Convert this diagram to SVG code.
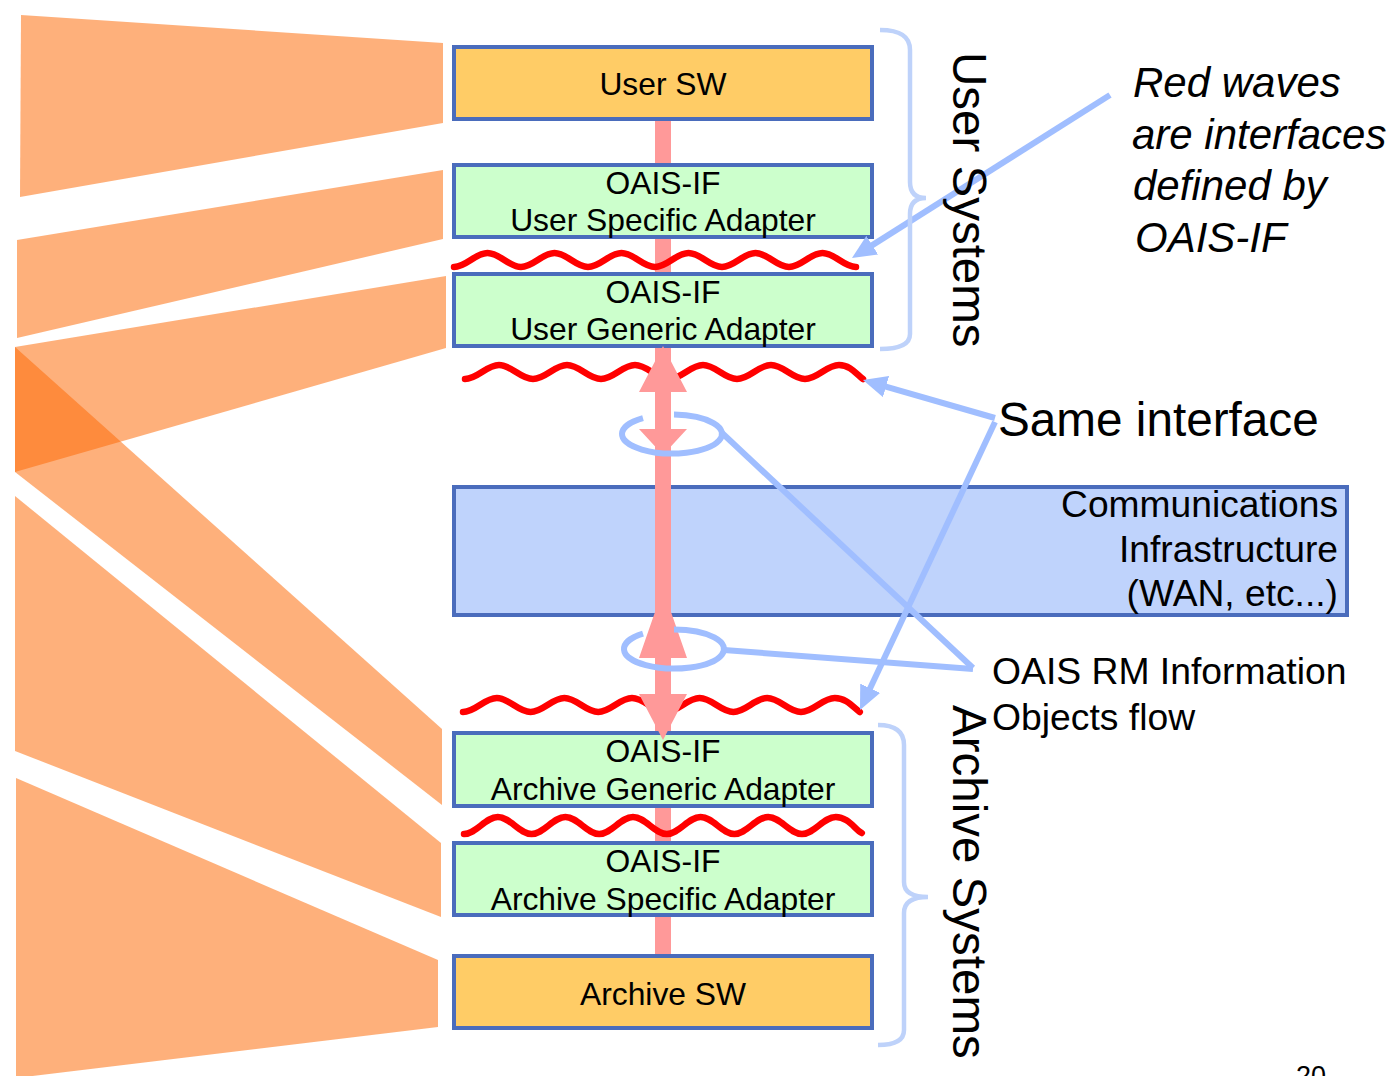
<svg xmlns="http://www.w3.org/2000/svg" width="1393" height="1076" viewBox="0 0 1393 1076">
  <defs>
    <style>
      .wedge { fill: #FD6A06; fill-opacity: 0.53; }
      .box { stroke: #4A6CBC; stroke-width: 4; }
      .sw { fill: #FFCC66; }
      .adapter { fill: #CCFFCC; }
      .comms { fill: #BFD3FC; }
      .lbl { font-family: "Liberation Sans", Arial, sans-serif; fill: #000; }
      .boxtxt { font-size: 31.8px; text-anchor: middle; }
      .wave { fill: none; stroke: #FF0000; stroke-width: 6.5; stroke-linecap: round; stroke-linejoin: round; }
      .call { fill: none; stroke: #A0BEFF; stroke-width: 6; }
      .brace { fill: none; stroke: #BED2FA; stroke-width: 4.5; }
    </style>
    <marker id="tip" viewBox="0 0 24 22" refX="12" refY="11" markerWidth="24" markerHeight="22" markerUnits="userSpaceOnUse" orient="auto">
      <path d="M0,0 L24,11 L0,22 z" fill="#A0BEFF"/>
    </marker>
  </defs>

  <!-- fan of wedges on the left, one per layer box -->
  <g id="wedges">
    <polygon class="wedge" points="21,15 443,43 443,123 20,197"/>
    <polygon class="wedge" points="17,240 443,170 443,239 17,338"/>
    <polygon class="wedge" points="15,347 446,276 446,348 15,472"/>
    <polygon class="wedge" points="15,347 442,729 442,805 15,472"/>
    <polygon class="wedge" points="15,496 441,843 441,917 15,751"/>
    <polygon class="wedge" points="16,778 438,960 438,1027 16,1078"/>
  </g>

  <!-- vertical stack link behind the boxes -->
  <g id="stack-link">
    <rect x="655" y="121" width="16" height="833" fill="#FF9999"/>
  </g>

  <g id="user-sw">
    <rect class="box sw" x="454" y="47" width="418" height="72"/>
    <text class="lbl boxtxt" x="663" y="95">User SW</text>
  </g>
  <g id="user-specific-adapter">
    <rect class="box adapter" x="454" y="165" width="418" height="72"/>
    <text class="lbl boxtxt" x="663" y="194">OAIS-IF</text>
    <text class="lbl boxtxt" x="663" y="231">User Specific Adapter</text>
  </g>
  <g id="user-generic-adapter">
    <rect class="box adapter" x="454" y="274" width="418" height="72"/>
    <text class="lbl boxtxt" x="663" y="303">OAIS-IF</text>
    <text class="lbl boxtxt" x="663" y="340">User Generic Adapter</text>
  </g>
  <g id="communications">
    <rect class="box comms" x="454" y="487" width="893" height="128"/>
    <text class="lbl" x="1338" y="517" font-size="37.2" text-anchor="end">Communications</text>
    <text class="lbl" x="1338" y="562" font-size="37.2" text-anchor="end">Infrastructure</text>
    <text class="lbl" x="1338" y="606" font-size="37.2" text-anchor="end">(WAN, etc...)</text>
  </g>
  <g id="archive-generic-adapter">
    <rect class="box adapter" x="454" y="733" width="418" height="73"/>
    <text class="lbl boxtxt" x="663" y="762">OAIS-IF</text>
    <text class="lbl boxtxt" x="663" y="800">Archive Generic Adapter</text>
  </g>
  <g id="archive-specific-adapter">
    <rect class="box adapter" x="454" y="843" width="418" height="72"/>
    <text class="lbl boxtxt" x="663" y="872">OAIS-IF</text>
    <text class="lbl boxtxt" x="663" y="910">Archive Specific Adapter</text>
  </g>
  <g id="archive-sw">
    <rect class="box sw" x="454" y="956" width="418" height="72"/>
    <text class="lbl boxtxt" x="663" y="1005">Archive SW</text>
  </g>

  <!-- interface waves -->
  <g id="waves">
    <path class="wave" d="M454,267 c12.2,0 21.3,-14 33.5,-14 s21.3,14 33.5,14 s21.3,-14 33.5,-14 s21.3,14 33.5,14 s21.3,-14 33.5,-14 s21.3,14 33.5,14 s21.3,-14 33.5,-14 s21.3,14 33.5,14 s21.3,-14 33.5,-14 s21.3,14 33.5,14 s21.3,-14 33.5,-14 s21.3,14 33.5,14"/>
    <path class="wave" d="M465,379 c12.4,0 21.6,-14 34,-14 s21.6,14 34,14 s21.6,-14 34,-14 s21.6,14 34,14 s21.6,-14 34,-14 s21.6,14 34,14 s21.6,-14 34,-14 s21.6,14 34,14 s21.6,-14 34,-14 s21.6,14 34,14 s21.6,-14 34,-14 c12,0 18,10 24,14"/>
    <path class="wave" d="M463,712 c12.3,0 21.5,-14 33.8,-14 s21.5,14 33.8,14 s21.5,-14 33.8,-14 s21.5,14 33.8,14 s21.5,-14 33.8,-14 s21.5,14 33.8,14 s21.5,-14 33.8,-14 s21.5,14 33.8,14 s21.5,-14 33.8,-14 s21.5,14 33.8,14 s21.5,-14 33.8,-14 c12,0 19,10 25,14"/>
    <path class="wave" d="M464,834 c12.3,0 21.5,-17 33.8,-17 s21.5,17 33.8,17 s21.5,-17 33.8,-17 s21.5,17 33.8,17 s21.5,-17 33.8,-17 s21.5,17 33.8,17 s21.5,-17 33.8,-17 s21.5,17 33.8,17 s21.5,-17 33.8,-17 s21.5,17 33.8,17 s21.5,-17 33.8,-17 c12,0 19,12 26,16"/>
  </g>

  <!-- information-object flow through the network -->
  <g id="flow">
    <path fill="#FF9999" d="M663,346 L687,392 L671,392 L671,429 L687,429 L663,455 L671,455 L671,612 L687,658 L671,658 L671,694 L687,694 L663,740 L639,694 L655,694 L655,658 L639,658 L655,612 L655,455 L663,455 L639,429 L655,429 L655,392 L639,392 Z"/>
  </g>

  <!-- callout connectors -->
  <g id="connectors">
    <path class="call" d="M674,414.5 A50,19.5 0 1 1 643,418.1"/>
    <path class="call" d="M674,629.5 A50,19.5 0 1 1 643,633.7"/>
    <line class="call" x1="721" y1="432" x2="973" y2="668"/>
    <line class="call" x1="724" y1="650" x2="973" y2="669"/>
    <line class="call" x1="995" y1="418" x2="874.5" y2="383.3" marker-end="url(#tip)"/>
    <line class="call" x1="995" y1="422" x2="865.1" y2="699.1" marker-end="url(#tip)"/>
    <line class="call" x1="1110" y1="95" x2="862.1" y2="251.6" marker-end="url(#tip)"/>
    <path class="brace" d="M880,30 C900,30 910,36 910,50 L910,182 C910,193 916,198 926,198 C916,198 910,203 910,214 L910,334 C910,344 900,349 880,349"/>
    <path class="brace" d="M878,725 C895,725 904,731 904,745 L904,882 C904,893 913,897 928,897 C913,897 904,902 904,913 L904,1030 C904,1040 895,1045 878,1045"/>
  </g>

  <!-- side labels -->
  <g id="labels">
    <text class="lbl" font-size="47.5" transform="translate(953,52) rotate(90)">User Systems</text>
    <text class="lbl" font-size="47.5" transform="translate(953,705) rotate(90)">Archive Systems</text>
    <text class="lbl" x="998" y="436" font-size="47.7">Same interface</text>
    <text class="lbl" x="992" y="684" font-size="37.3">OAIS RM Information</text>
    <text class="lbl" x="992" y="730" font-size="37.3">Objects flow</text>
    <g font-style="italic" font-size="42">
      <text class="lbl" x="1133" y="97">Red waves</text>
      <text class="lbl" x="1132" y="149">are interfaces</text>
      <text class="lbl" x="1133" y="200">defined by</text>
      <text class="lbl" x="1135" y="252">OAIS-IF</text>
    </g>
    <text class="lbl" x="1296" y="1085" font-size="27">20</text>
  </g>
</svg>
